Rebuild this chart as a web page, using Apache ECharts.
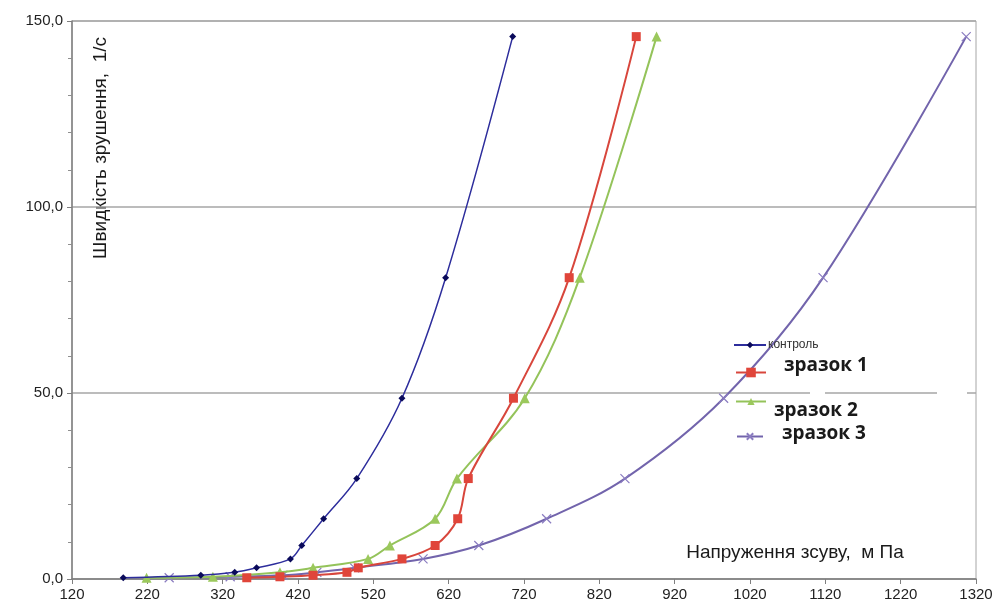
<!DOCTYPE html>
<html><head><meta charset="utf-8">
<script src="https://cdn.jsdelivr.net/npm/echarts@6/dist/echarts.min.js"></script>
<style>html,body{margin:0;padding:0;background:#fff}#c{width:999px;height:610px}</style>
</head><body><div id="c"></div>
<script>
// Data
var xTicks = [120, 220, 320, 420, 520, 620, 720, 820, 920, 1020, 1120, 1220, 1320];
var yTicks = [0, 50, 100, 150];
var seriesNames = ['контроль', 'зразок 1', 'зразок 2', 'зразок 3'];

var controlX = [188, 291, 336, 365, 410, 425, 454, 498, 558, 616, 705];
var controlY = [0.333, 1.0, 1.8, 3.0, 5.4, 9.0, 16.2, 27.0, 48.6, 81.0, 145.8];

var sample1X = [352, 396, 440, 485, 500, 558, 602, 632, 646, 706, 780, 869];
var sample1Y = [0.333, 0.6, 1.0, 1.8, 3.0, 5.4, 9.0, 16.2, 27.0, 48.6, 81.0, 145.8];

var sample2X = [219, 307, 396, 440, 513, 542, 602, 631, 721, 794, 896];
var sample2Y = [0.333, 0.6, 1.8, 3.0, 5.4, 9.0, 16.2, 27.0, 48.6, 81.0, 145.8];

var sample3X = [249, 330, 400, 445, 495, 586, 660, 750, 854, 985, 1117, 1307];
var sample3Y = [0.333, 0.6, 1.0, 1.8, 3.0, 5.4, 9.0, 16.2, 27.0, 48.6, 81.0, 145.8];

function pairs(xs, ys) { return xs.map(function (x, i) { return [x, ys[i]]; }); }

var chart = echarts.init(document.getElementById('c'), null, {renderer: 'canvas'});
var FONT = 'Liberation Sans';
var LFONT = 'Open Sans';
var xMark = 'path://M0,0L10,10M10,0L0,10';

function bigLegend(name, left, top, iw, ih, padLeft, shift) {
  // shift > 0: text sits below the icon; shift < 0: text sits above it
  var fmt = shift > 0
    ? function (n) { return '{s| }\n{t|' + n + '}'; }
    : function (n) { return '{t|' + n + '}\n{s| }'; };
  return {
    data: [name], left: left, top: top, padding: 0, itemWidth: iw, itemHeight: ih,
    formatter: fmt,
    textStyle: {
      padding: [0, 0, 0, padLeft],
      rich: {
        s: {fontSize: 1, lineHeight: Math.abs(shift) * 2},
        t: {fontFamily: LFONT, fontWeight: 'bold', fontSize: 19, lineHeight: 24, color: '#1a1a1a'}
      }
    }
  };
}

var option = {
  animation: false,
  backgroundColor: '#fff',
  grid: {left: 72, right: 23, top: 21, bottom: 31, show: true, borderColor: '#a6a6a6', borderWidth: 1},
  xAxis: {
    type: 'value', min: xTicks[0], max: xTicks[xTicks.length - 1], interval: 100,
    axisLine: {show: true, lineStyle: {color: '#7f7f7f', width: 1.5}},
    axisTick: {show: true, length: 5, lineStyle: {color: '#7f7f7f'}},
    axisLabel: {fontFamily: FONT, fontSize: 15, color: '#222', margin: 8,
      formatter: function (v) { return String(v); }},
    splitLine: {show: false}
  },
  yAxis: {
    type: 'value', min: yTicks[0], max: yTicks[yTicks.length - 1], interval: 50,
    axisLine: {show: true, lineStyle: {color: '#7f7f7f', width: 1.5}},
    axisTick: {show: true, length: 5, lineStyle: {color: '#7f7f7f'}},
    minorTick: {show: true, splitNumber: 5, length: 4, lineStyle: {color: '#8f8f8f'}},
    axisLabel: {fontFamily: FONT, fontSize: 15, color: '#222', margin: 9,
      formatter: function (v) { return v.toFixed(1).replace('.', ','); }},
    splitLine: {show: true, lineStyle: {color: '#a6a6a6', width: 1.5}}
  },
  legend: [
    {data: [seriesNames[0]], left: 733, top: 339, padding: 0, itemWidth: 32, itemHeight: 8,
     textStyle: {fontFamily: FONT, fontSize: 12, color: '#333', padding: [0, 0, 0, -3]}},
    bigLegend(seriesNames[1], 735, 356, 30, 12, 13, -7),
    bigLegend(seriesNames[2], 735, 389, 30, 9, 3, 9),
    bigLegend(seriesNames[3], 736, 424, 26, 8, 14, -3)
  ],
  series: [
    {name: seriesNames[0], type: 'line', smooth: 0.35, data: pairs(controlX, controlY),
     symbol: 'diamond', symbolSize: 7, showSymbol: true,
     lineStyle: {color: '#2d2d9c', width: 1.5}, itemStyle: {color: '#0a0a5a'}, z: 5},
    {name: seriesNames[1], type: 'line', smooth: 0.35, data: pairs(sample1X, sample1Y),
     symbol: 'rect', symbolSize: 9, showSymbol: true,
     lineStyle: {color: '#d8463c', width: 2}, itemStyle: {color: '#e0453a'}, z: 4},
    {name: seriesNames[2], type: 'line', smooth: 0.35, data: pairs(sample2X, sample2Y),
     symbol: 'triangle', symbolSize: 10, showSymbol: true,
     lineStyle: {color: '#94c35a', width: 2}, itemStyle: {color: '#9bc85c'}, z: 3},
    {name: seriesNames[3], type: 'line', smooth: 0.35, data: pairs(sample3X, sample3Y),
     symbol: xMark, symbolSize: 9, showSymbol: true,
     lineStyle: {color: '#7264ac', width: 2},
     itemStyle: {color: '#8a7cc0', borderColor: '#8a7cc0', borderWidth: 1.2}, z: 2}
  ],
  graphic: [
    {type: 'rect', shape: {x: 810, y: 390, width: 15, height: 6}, style: {fill: '#fff'}, z: 1},
    {type: 'rect', shape: {x: 937, y: 390, width: 30, height: 6}, style: {fill: '#fff'}, z: 1},
    {type: 'text', x: 101, y: 148, rotation: Math.PI / 2,
     style: {text: 'Швидкість зрушення,  1/с', font: '19px "Liberation Sans"', fill: '#1a1a1a', align: 'center', verticalAlign: 'middle'}},
    {type: 'text', x: 795, y: 553,
     style: {text: 'Напруження зсуву,  м Па', font: '19px "Liberation Sans"', fill: '#1a1a1a', align: 'center', verticalAlign: 'middle'}}
  ]
};
chart.setOption(option);
</script></body></html>
